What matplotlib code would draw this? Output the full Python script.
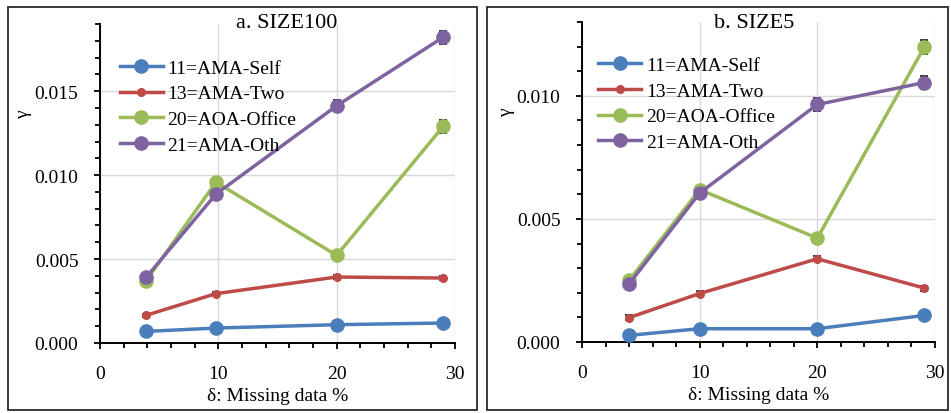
import matplotlib
matplotlib.use("Agg")
import matplotlib.pyplot as plt
from matplotlib.patches import Rectangle
from matplotlib.ticker import MultipleLocator, FormatStrFormatter

plt.rcParams['font.family'] = ['Liberation Serif', 'DejaVu Serif']

# ---- data ----
series_labels = ["11=AMA-Self", "13=AMA-Two", "20=AOA-Office", "21=AMA-Oth"]
colors = ["#4A7EBB", "#BE4B48", "#9BBB59", "#7F63A1"]
marker_sizes = [9.5, 5.5, 9.5, 9.5]

x_a = [3.9, 9.8, 20, 29]
a_self = [0.00069, 0.00089, 0.00109, 0.00119]
a_two = [0.00165, 0.00294, 0.00393, 0.00387]
a_office = [0.00371, 0.00958, 0.00522, 0.0129]
a_oth = [0.00391, 0.00887, 0.01413, 0.01821]
a_err_self = [0.00005, 0.00005, 0.00005, 0.00005]
a_err_two = [0.0001, 0.0001, 0.0001, 0.0001]
a_err_office = [0.00025, 0.00025, 0.0002, 0.0004]
a_err_oth = [0.0002, 0.00035, 0.00033, 0.00039]

x_b = [4, 10, 20, 29.1]
b_self = [0.00027, 0.00054, 0.00054, 0.00108]
b_two = [0.00099, 0.00197, 0.00338, 0.00219]
b_office = [0.0025, 0.00619, 0.00422, 0.01199]
b_oth = [0.00236, 0.00605, 0.00965, 0.01054]
b_err_self = [0.00005, 0.00005, 0.00005, 0.00005]
b_err_two = [0.0001, 0.0001, 0.0001, 0.0001]
b_err_office = [0.0001, 0.00015, 0.00015, 0.00027]
b_err_oth = [0.0001, 0.00015, 0.00027, 0.00025]

titles = ["a. SIZE100", "b. SIZE5"]
xlabel = "δ: Missing data %"
ylabel = "γ"

W, H = 951, 414
fig = plt.figure(figsize=(W / 100, H / 100), dpi=100)

def px_rect(x0, y0, x1, y1):
    return [x0 / W, (H - y1) / H, (x1 - x0) / W, (y1 - y0) / H]

# borders
for (x0, y0, x1, y1) in [(8, 8, 477, 411), (487, 8, 948, 411)]:
    r = px_rect(x0, y0, x1, y1)
    fig.add_artist(Rectangle((r[0], r[1]), r[2], r[3], transform=fig.transFigure,
                             fill=False, edgecolor="#2b2b2b", linewidth=1.3))

ax_a = fig.add_axes(px_rect(100, 25, 455, 344))
ax_b = fig.add_axes(px_rect(582, 23, 935, 343))

panels = [
    (ax_a, x_a, [a_self, a_two, a_office, a_oth],
     [a_err_self, a_err_two, a_err_office, a_err_oth], 0.019, titles[0], 287, 0.056, 0.89),
    (ax_b, x_b, [b_self, b_two, b_office, b_oth],
     [b_err_self, b_err_two, b_err_office, b_err_oth], 0.013, titles[1], 754, 0.046, 0.893),
]

for ax, xs, ys, errs, ytop, title, tx, lx, ly in panels:
    handles = []
    for y, e, c, ms, lab in zip(ys, errs, colors, marker_sizes, series_labels):
        ax.errorbar(xs, y, yerr=e, fmt='none', ecolor="#3a3a3a", elinewidth=1.0,
                    capsize=3.2, capthick=1.4, zorder=3)
        h, = ax.plot(xs, y, color=c, linewidth=2.5, marker='o', markersize=ms,
                     markerfacecolor=c, markeredgecolor=c, label=lab, zorder=4)
        handles.append(h)
    ax.set_xlim(0, 30)
    ax.set_ylim(0, ytop)
    ax.xaxis.set_major_locator(MultipleLocator(10))
    ax.xaxis.set_minor_locator(MultipleLocator(2))
    ax.yaxis.set_major_locator(MultipleLocator(0.005))
    ax.yaxis.set_minor_locator(MultipleLocator(0.001))
    ax.yaxis.set_major_formatter(FormatStrFormatter('%.3f'))
    ax.grid(True, which='major', color="#D9D9D9", linewidth=1.0, zorder=0)
    ax.set_axisbelow(True)
    for s in ['top', 'right']:
        ax.spines[s].set_visible(False)
    for s in ['left', 'bottom']:
        ax.spines[s].set_linewidth(1.4)
        ax.spines[s].set_color('black')
    ax.tick_params(which='both', direction='out', width=1.3, labelsize=14, pad=11)
    ax.tick_params(which='major', length=4.5)
    ax.tick_params(which='minor', length=3.5)
    ax.set_xlabel(xlabel, fontsize=14, labelpad=4)
    ax.set_ylabel(ylabel, fontsize=14)
    ax.yaxis.set_label_coords(-0.19, 0.72)
    fig.text(tx / W, 1 - 23.5 / H, title, fontsize=16, ha='center', va='center')
    leg = ax.legend(handles=handles, loc='upper left', bbox_to_anchor=(lx, ly),
                    frameon=False, fontsize=14, borderpad=0, borderaxespad=0,
                    handlelength=2.2, handletextpad=0.25, labelspacing=0.42)

fig.savefig("out.png", dpi=100)
